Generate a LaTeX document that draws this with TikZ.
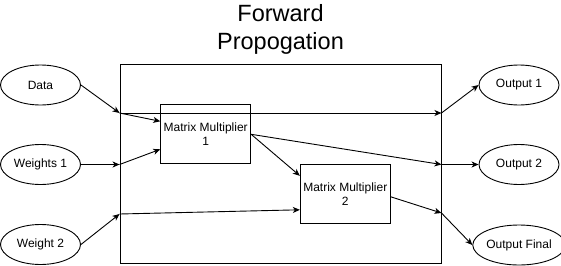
\documentclass[tikz,border=0pt]{standalone}
\usepackage{fontspec}
\setmainfont{Liberation Sans}
\usetikzlibrary{arrows.meta,shapes.geometric}

\begin{document}
\begin{tikzpicture}[x=1pt, y=-1pt, line width=0.9pt,
    io/.style={draw, ellipse, minimum width=80pt, minimum height=40pt, inner sep=0pt, font=\fontsize{12}{14}\selectfont},
    mult/.style={draw, minimum width=90pt, minimum height=59pt, inner sep=0pt, align=center, font=\fontsize{12}{14}\selectfont},
    flow/.style={-{Stealth[length=7pt, width=6pt, inset=2pt]}}]
    \useasboundingbox (0,0) rectangle (561,265);

    \node[align=center, font=\fontsize{23.5}{28}\selectfont] (title) at (280.5,29.5) {Forward\\Propogation};
    \node[draw, minimum width=321pt, minimum height=199pt] (frame) at (280.5,163.5) {};

    % inputs and outputs
    \node[io] (data) at (40.5,85) {Data};
    \node[io] (w1) at (40.5,164.5) {Weights 1};
    \node[io] (w2) at (40.5,244.5) {Weight 2};
    \node[io] (out1) at (519,85) {Output 1};
    \node[io] (out2) at (519,164.5) {Output 2};
    \node[io] (outf) at (519,245) {Output Final};

    \node[mult] (mm1) at (205.7,134.3) {Matrix Multiplier\\1};
    \node[mult] (mm2) at (345.3,193.8) {Matrix Multiplier\\2};

    % where the lines cross the frame
    \coordinate (inA) at (frame.west |- 0,113);
    \coordinate (inB) at (frame.west |- w1.east);
    \coordinate (inC) at (frame.west |- 0,214);
    \coordinate (outA) at (frame.east |- 0,113);
    \coordinate (outB) at (frame.east |- out2.west);
    \coordinate (outC) at (frame.east |- 0,213);

    \draw[flow] (data.east) -- (inA);
    \draw[flow] (w1.east) -- (inB);
    \draw[flow] (w2.east) -- (inC);

    \draw[flow] (inA) -- ([yshift=13pt]mm1.west);
    \draw[flow] (inB) -- ([yshift=-15pt]mm1.west);
    \draw[flow] (inC) -- ([yshift=-16pt]mm2.west);
    \draw[flow] (inA) -- (outA);
    \draw[flow] (mm1.east) -- (outB);
    \draw[flow] (mm1.east) -- ([yshift=18pt]mm2.west);
    \draw[flow] ([yshift=-3pt]mm2.east) -- (outC);

    \draw[flow] (outA) -- (out1.west);
    \draw[flow] (outB) -- (out2.west);
    \draw[flow] (outC) -- (outf.west);
\end{tikzpicture}
\end{document}
